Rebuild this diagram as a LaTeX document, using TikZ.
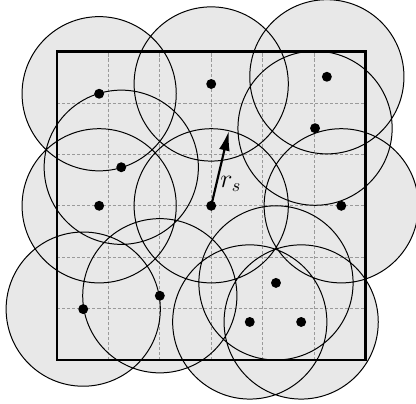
\documentclass[tikz,border=0pt]{standalone}
\usepackage{amsmath,amssymb}
\usepackage{xcolor}
\usepackage{tikz}
\usetikzlibrary{arrows.meta,backgrounds}
\definecolor{coverGray}{HTML}{E8E8E8}
\definecolor{gridGray}{HTML}{9A9A9A}

\begin{document}
\begin{tikzpicture}[
    sensor/.style={circle, fill=black, inner sep=0pt, minimum size=5.5pt},
    cover/.style={fill=coverGray},
    senserange/.style={draw=black, line width=0.55pt},
    cellline/.style={draw=gridGray, dashed, dash pattern=on 1.7pt off 1.1pt, line width=0.5pt},
    field/.style={draw=black, line width=1.4pt},
    rsarrow/.style={-{Latex[length=11pt,width=6pt]}, line width=1.2pt},
  ]
  \useasboundingbox (-1.109,-0.837) rectangle (6.984,7.004);
  % sensor positions
  \node[sensor] (s1)  at (0.82,5.18) {};
  \node[sensor] (s2)  at (1.25,3.75) {};
  \node[sensor] (s3)  at (3.00,5.37) {};
  \node[sensor] (s4)  at (5.25,5.51) {};
  \node[sensor] (s5)  at (5.02,4.51) {};
  \node[sensor] (s6)  at (0.82,3.00) {};
  \node[sensor] (s7)  at (3.00,3.00) {};
  \node[sensor] (s8)  at (5.53,3.00) {};
  \node[sensor] (s9)  at (0.51,0.99) {};
  \node[sensor] (s10) at (2.00,1.25) {};
  \node[sensor] (s11) at (4.26,1.50) {};
  \node[sensor] (s12) at (3.75,0.74) {};
  \node[sensor] (s13) at (4.75,0.74) {};
  % sensing discs
  \begin{scope}[on background layer]
    \path[cover] (s1) circle (1.5) (s2) circle (1.5) (s3) circle (1.5)
      (s4) circle (1.5) (s5) circle (1.5) (s6) circle (1.5) (s7) circle (1.5)
      (s8) circle (1.5) (s9) circle (1.5) (s10) circle (1.5) (s11) circle (1.5)
      (s12) circle (1.5) (s13) circle (1.5);
    \draw[cellline] (0,0) grid (6,6);
    \path[senserange] (s1) circle (1.5) (s2) circle (1.5) (s3) circle (1.5)
      (s4) circle (1.5) (s5) circle (1.5) (s6) circle (1.5) (s7) circle (1.5)
      (s8) circle (1.5) (s9) circle (1.5) (s10) circle (1.5) (s11) circle (1.5)
      (s12) circle (1.5) (s13) circle (1.5);
  \end{scope}
  \draw[field] (0,0) rectangle (6,6);
  \path (s7) ++(76.7:1.5) coordinate (rtip);
  \draw[rsarrow] (s7.center) -- (rtip);
  \node[font=\Large] (rlab) at (3.38,3.42) {$r_s$};
\end{tikzpicture}
\end{document}
